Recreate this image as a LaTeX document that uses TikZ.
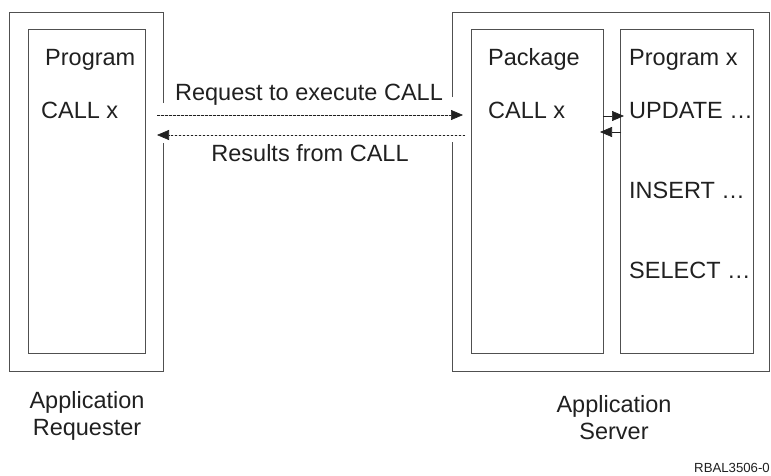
\documentclass[tikz,border=0pt]{standalone}
\usepackage{fontspec}
\setmainfont{Liberation Sans}
\usetikzlibrary{arrows.meta}
\definecolor{linegray}{HTML}{505050}
\definecolor{txtgray}{HTML}{202020}

\begin{document}
\begin{tikzpicture}[x=1pt,y=-1pt,
    box/.style={draw=linegray, line width=0.8pt, inner sep=0pt},
    lbl/.style={text=txtgray, font=\fontsize{23.5}{27}\selectfont, inner sep=0pt, anchor=base west},
    sidelbl/.style={text=txtgray, font=\fontsize{23.5}{27}\selectfont, inner sep=0pt, align=center},
    tip/.style={-{Triangle[length=12pt,width=10pt]}, draw=txtgray, fill=txtgray},
    dashline/.style={tip, line width=0.6pt, dash pattern=on 2.5pt off 1.5pt}]
    \useasboundingbox (0,0) rectangle (771,475);

    % 外框(留出箭头通过的缺口)
    \draw[linegray, line width=0.8pt] (163,103) -- (163,12) -- (9,12) -- (9,371) -- (163,371) -- (163,143);
    \draw[linegray, line width=0.8pt] (452,97) -- (452,12) -- (769,12) -- (769,371) -- (452,371) -- (452,142);

    % 内框
    \node[box, minimum width=117, minimum height=324] (prog) at (86.5,191) {};
    \node[box, minimum width=132, minimum height=324] (pkg) at (537,191) {};
    \node[box, minimum width=133, minimum height=324] (progx) at (686.5,191) {};

    % 框内文字
    \node[lbl] (progT) at (45,65) {Program};
    \node[lbl] (callL) at (41,118) {CALL x};
    \node[lbl] (pkgT) at (488,65) {Package};
    \node[lbl] (callR) at (488,118) {CALL x};
    \node[lbl] (progxT) at (629,65) {Program x};
    \node[lbl] (upd) at (629,118) {UPDATE \dots};
    \node[lbl] (ins) at (629,198) {INSERT \dots};
    \node[lbl] (sel) at (629,278) {SELECT \dots};

    % 请求与结果
    \coordinate (reqS) at (157,115);
    \coordinate (reqE) at (463,115);
    \coordinate (resS) at (465,135);
    \coordinate (resE) at (157,135);
    \draw[dashline] (reqS) -- (reqE);
    \draw[dashline] (resS) -- (resE);
    \node[lbl, anchor=base] (req) at (309,100) {Request to execute CALL};
    \node[lbl, anchor=base] (res) at (310,161) {Results from CALL};

    % Package 与 Program x 之间
    \coordinate (a1) at (603,116);
    \coordinate (a2) at (624,116);
    \coordinate (b1) at (621,132);
    \coordinate (b2) at (600,132);
    \draw[tip, line width=0.6pt] (a1) -- (a2);
    \draw[tip, line width=0.6pt] (b1) -- (b2);

    % 底部说明
    \node[sidelbl] (ar) at (87,416) {Application\\Requester};
    \node[sidelbl] (as) at (614,418) {Application\\Server};
    \node[text=txtgray, font=\fontsize{13.2}{15}\selectfont, inner sep=0pt, anchor=base east] (fig) at (770,472) {RBAL3506-0};
\end{tikzpicture}
\end{document}
